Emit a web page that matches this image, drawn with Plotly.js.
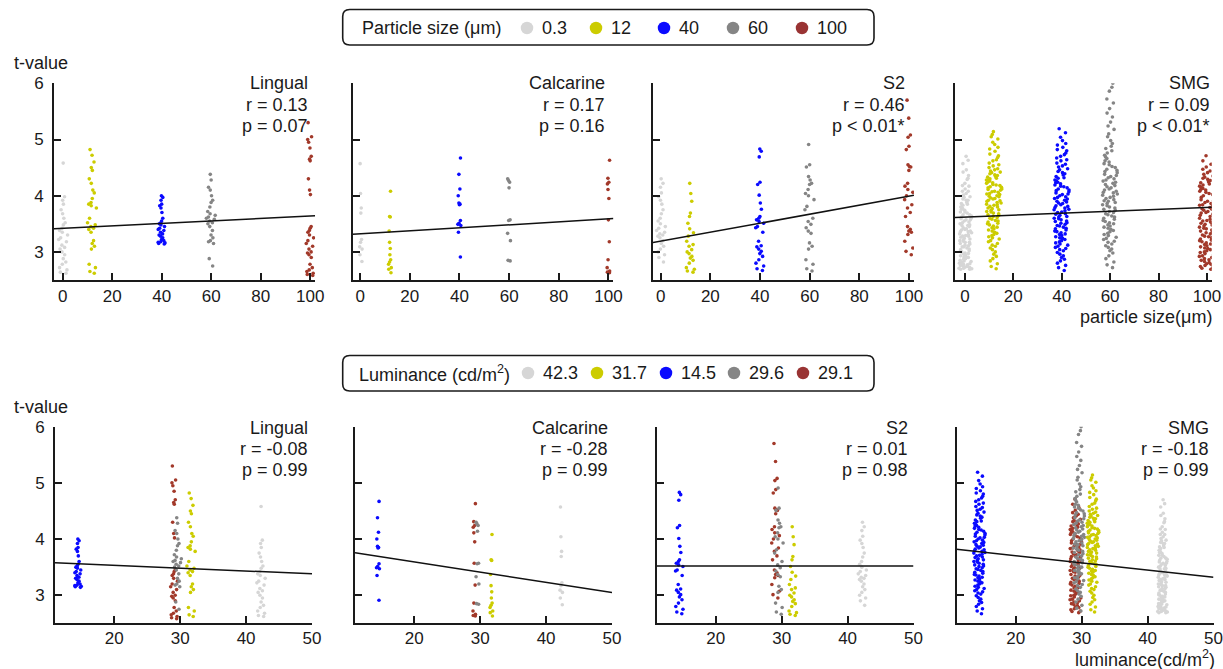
<!DOCTYPE html>
<html>
<head>
<meta charset="utf-8">
<script src="https://cdn.plot.ly/plotly-3.0.1.min.js"></script>
<style>html,body{margin:0;padding:0;background:#fff;}#chart{width:1223px;height:669px;}</style>
</head>
<body>
<div id="chart"></div>
<script>
// ---------------- DATA ----------------
const sizeCats = [0.3, 12, 40, 60, 100];
const lumCats = [42.3, 31.7, 14.5, 29.6, 29.1];
const sizeLabels = ['0.3', '12', '40', '60', '100'];
const lumLabels = ['42.3', '31.7', '14.5', '29.6', '29.1'];
const regions = ['Lingual', 'Calcarine', 'S2', 'SMG'];
const rTop = ['r = 0.13', 'r = 0.17', 'r = 0.46', 'r = 0.09'];
const pTop = ['p = 0.07', 'p = 0.16', 'p < 0.01*', 'p < 0.01*'];
const rBot = ['r = -0.08', 'r = -0.28', 'r = 0.01', 'r = -0.18'];
const pBot = ['p = 0.99', 'p = 0.99', 'p = 0.98', 'p = 0.99'];
const fitTopIntercept = [3.42, 3.32, 3.19, 3.62];
const fitTopSlope = [0.0022, 0.0027, 0.0080, 0.0017];
const fitBotIntercept = [3.636, 3.954, 3.52, 3.96];
const fitBotSlope = [-0.0051, -0.0181, 0.0, -0.0128];
const topXTicks = [0, 20, 40, 60, 80, 100];
const botXTicks = [20, 30, 40, 50];
const yTicks = [3, 4, 5, 6];

// t-values per region and category (same subjects in both rows)
const lingual_03 = [4.58, 3.98, 3.92, 3.85, 3.75, 3.68, 3.60, 3.52, 3.48, 3.42, 3.38, 3.35, 3.30, 3.25, 3.22, 3.18, 3.12, 3.08, 3.05, 3.00, 2.95, 2.88, 2.82, 2.78, 2.72, 2.68, 2.64, 2.62];
const lingual_12 = [4.82, 4.72, 4.60, 4.50, 4.45, 4.30, 4.22, 4.10, 4.05, 3.95, 3.88, 3.85, 3.82, 3.78, 3.60, 3.52, 3.48, 3.45, 3.42, 3.40, 3.35, 3.20, 3.15, 3.10, 3.05, 2.78, 2.72, 2.65, 2.62];
const lingual_40 = [4.00, 3.97, 3.92, 3.85, 3.82, 3.78, 3.70, 3.60, 3.55, 3.52, 3.50, 3.48, 3.45, 3.42, 3.40, 3.38, 3.35, 3.32, 3.30, 3.28, 3.25, 3.22, 3.20, 3.18, 3.17, 3.16, 3.15, 3.14];
const lingual_60 = [4.38, 4.28, 4.15, 4.10, 4.00, 3.92, 3.88, 3.80, 3.72, 3.68, 3.65, 3.62, 3.60, 3.58, 3.55, 3.52, 3.50, 3.45, 3.38, 3.30, 3.25, 3.20, 3.18, 3.15, 2.88, 2.75];
const lingual_100 = [5.30, 5.05, 5.00, 4.95, 4.85, 4.70, 4.65, 4.62, 4.30, 4.10, 4.02, 3.45, 3.42, 3.38, 3.35, 3.30, 3.25, 3.20, 3.15, 3.10, 3.05, 3.00, 2.98, 2.95, 2.90, 2.78, 2.72, 2.68, 2.65, 2.62, 2.60, 2.58];

const calcarine_03 = [4.57, 4.04, 3.78, 3.69, 3.22, 3.17, 3.09, 3.05, 2.95, 2.83];
const calcarine_12 = [4.08, 3.63, 3.62, 3.37, 3.17, 3.06, 2.95, 2.86, 2.82, 2.78, 2.72, 2.69, 2.63];
const calcarine_40 = [4.67, 4.38, 4.12, 4.00, 3.87, 3.85, 3.84, 3.56, 3.51, 3.49, 3.47, 3.35, 2.91];
const calcarine_60 = [4.30, 4.27, 4.24, 4.14, 3.57, 3.56, 3.33, 3.20, 2.85, 2.84];
const calcarine_100 = [4.63, 4.31, 4.24, 4.21, 4.11, 3.95, 3.57, 3.18, 2.86, 2.72, 2.66, 2.64, 2.63];

const s2_03 = [4.30, 4.22, 4.15, 4.05, 3.98, 3.92, 3.85, 3.75, 3.68, 3.60, 3.55, 3.50, 3.45, 3.42, 3.38, 3.35, 3.32, 3.30, 3.28, 3.25, 3.20, 3.15, 3.10, 3.05, 3.00, 2.95, 2.90, 2.82];
const s2_12 = [4.22, 4.04, 3.90, 3.69, 3.63, 3.51, 3.41, 3.34, 3.28, 3.19, 3.13, 3.10, 3.04, 3.00, 2.97, 2.92, 2.89, 2.85, 2.80, 2.72, 2.69, 2.66, 2.64];
const s2_40 = [4.83, 4.79, 4.69, 4.24, 4.20, 4.01, 3.87, 3.76, 3.63, 3.60, 3.57, 3.54, 3.51, 3.45, 3.43, 3.35, 3.19, 3.11, 3.09, 3.05, 3.01, 2.97, 2.92, 2.86, 2.80, 2.75, 2.70, 2.67];
const s2_60 = [4.91, 4.55, 4.51, 4.34, 4.28, 4.22, 4.20, 4.11, 4.04, 4.00, 3.93, 3.81, 3.75, 3.60, 3.54, 3.49, 3.43, 3.37, 3.33, 3.16, 3.10, 3.05, 2.86, 2.78, 2.70, 2.66];
const s2_100 = [5.70, 5.38, 5.08, 5.04, 4.88, 4.82, 4.55, 4.52, 4.51, 4.45, 4.22, 4.17, 4.11, 4.06, 4.00, 3.93, 3.84, 3.78, 3.70, 3.63, 3.45, 3.40, 3.37, 3.35, 3.31, 3.19, 3.07, 3.01, 2.95];

const smg_03 = [4.70, 4.63, 4.57, 4.46, 4.42, 4.36, 4.31, 4.29, 4.22, 4.18, 4.17, 4.12, 4.08, 4.08, 4.04, 4.01, 3.98, 3.97, 3.94, 3.92, 3.92, 3.88, 3.86, 3.85, 3.83, 3.80, 3.80, 3.77, 3.76, 3.74, 3.71, 3.71, 3.69, 3.66, 3.66, 3.64, 3.62, 3.60, 3.59, 3.57, 3.57, 3.55, 3.53, 3.52, 3.50, 3.48, 3.47, 3.47, 3.45, 3.43, 3.41, 3.40, 3.39, 3.37, 3.36, 3.36, 3.34, 3.32, 3.31, 3.29, 3.28, 3.28, 3.26, 3.24, 3.23, 3.21, 3.20, 3.19, 3.17, 3.17, 3.15, 3.14, 3.12, 3.11, 3.09, 3.09, 3.07, 3.05, 3.04, 3.02, 3.01, 3.00, 2.98, 2.97, 2.96, 2.94, 2.93, 2.91, 2.90, 2.90, 2.88, 2.87, 2.85, 2.84, 2.83, 2.81, 2.80, 2.79, 2.78, 2.77, 2.76, 2.75, 2.74, 2.73, 2.72, 2.71, 2.71, 2.70, 2.69, 2.69];
const smg_12 = [5.14, 5.09, 5.05, 5.01, 4.95, 4.91, 4.86, 4.83, 4.79, 4.74, 4.71, 4.68, 4.64, 4.62, 4.58, 4.55, 4.53, 4.50, 4.48, 4.46, 4.44, 4.42, 4.41, 4.39, 4.37, 4.36, 4.34, 4.33, 4.31, 4.30, 4.28, 4.27, 4.26, 4.24, 4.23, 4.22, 4.20, 4.19, 4.18, 4.16, 4.15, 4.14, 4.12, 4.11, 4.10, 4.08, 4.07, 4.06, 4.04, 4.03, 4.02, 4.00, 3.99, 3.98, 3.96, 3.95, 3.94, 3.92, 3.91, 3.90, 3.88, 3.87, 3.85, 3.84, 3.83, 3.81, 3.80, 3.78, 3.77, 3.75, 3.74, 3.72, 3.71, 3.69, 3.68, 3.66, 3.65, 3.63, 3.61, 3.60, 3.58, 3.56, 3.55, 3.53, 3.51, 3.50, 3.48, 3.46, 3.44, 3.43, 3.41, 3.39, 3.37, 3.35, 3.33, 3.31, 3.29, 3.27, 3.25, 3.23, 3.20, 3.18, 3.15, 3.12, 3.10, 3.07, 3.04, 3.00, 2.96, 2.92, 2.88, 2.84, 2.79, 2.74, 2.70];
const smg_40 = [5.19, 5.12, 5.04, 4.98, 4.93, 4.90, 4.86, 4.82, 4.80, 4.76, 4.73, 4.70, 4.67, 4.64, 4.62, 4.58, 4.56, 4.53, 4.51, 4.48, 4.46, 4.43, 4.41, 4.39, 4.37, 4.34, 4.32, 4.31, 4.28, 4.26, 4.24, 4.23, 4.21, 4.19, 4.17, 4.16, 4.14, 4.12, 4.10, 4.09, 4.07, 4.05, 4.03, 4.02, 4.00, 3.98, 3.97, 3.95, 3.94, 3.92, 3.90, 3.89, 3.87, 3.86, 3.84, 3.82, 3.81, 3.79, 3.78, 3.76, 3.75, 3.73, 3.71, 3.70, 3.68, 3.67, 3.65, 3.63, 3.62, 3.60, 3.59, 3.57, 3.55, 3.54, 3.52, 3.51, 3.49, 3.47, 3.46, 3.44, 3.42, 3.41, 3.39, 3.37, 3.36, 3.34, 3.32, 3.31, 3.29, 3.27, 3.25, 3.24, 3.22, 3.20, 3.18, 3.16, 3.14, 3.12, 3.10, 3.08, 3.06, 3.04, 3.02, 2.99, 2.96, 2.93, 2.90, 2.87, 2.84, 2.80, 2.76, 2.72, 2.67];
const smg_60 = [6.06, 6.00, 5.93, 5.86, 5.72, 5.65, 5.55, 5.47, 5.40, 5.31, 5.24, 5.18, 5.10, 5.05, 4.98, 4.93, 4.88, 4.84, 4.80, 4.76, 4.72, 4.69, 4.66, 4.62, 4.60, 4.57, 4.55, 4.52, 4.50, 4.47, 4.45, 4.43, 4.41, 4.38, 4.36, 4.34, 4.32, 4.30, 4.28, 4.26, 4.24, 4.22, 4.20, 4.18, 4.16, 4.14, 4.12, 4.10, 4.08, 4.06, 4.05, 4.03, 4.01, 3.99, 3.97, 3.95, 3.93, 3.91, 3.90, 3.88, 3.86, 3.84, 3.82, 3.80, 3.78, 3.76, 3.74, 3.72, 3.70, 3.68, 3.66, 3.64, 3.62, 3.60, 3.58, 3.56, 3.54, 3.52, 3.50, 3.48, 3.46, 3.44, 3.42, 3.40, 3.38, 3.36, 3.33, 3.31, 3.29, 3.26, 3.24, 3.22, 3.19, 3.17, 3.14, 3.11, 3.08, 3.05, 3.02, 2.98, 2.93, 2.88, 2.82, 2.77, 2.72];
const smg_100 = [4.71, 4.62, 4.56, 4.51, 4.47, 4.44, 4.41, 4.38, 4.35, 4.33, 4.31, 4.29, 4.27, 4.25, 4.23, 4.21, 4.19, 4.17, 4.15, 4.13, 4.11, 4.10, 4.08, 4.06, 4.04, 4.02, 4.00, 3.99, 3.97, 3.95, 3.93, 3.91, 3.90, 3.88, 3.86, 3.84, 3.83, 3.81, 3.79, 3.77, 3.76, 3.74, 3.72, 3.70, 3.69, 3.67, 3.65, 3.63, 3.62, 3.60, 3.58, 3.56, 3.55, 3.53, 3.51, 3.49, 3.48, 3.46, 3.44, 3.42, 3.41, 3.39, 3.37, 3.35, 3.34, 3.32, 3.30, 3.28, 3.27, 3.25, 3.23, 3.21, 3.20, 3.18, 3.16, 3.14, 3.13, 3.11, 3.09, 3.07, 3.06, 3.04, 3.02, 3.00, 2.99, 2.97, 2.95, 2.93, 2.92, 2.90, 2.88, 2.86, 2.85, 2.83, 2.81, 2.79, 2.78, 2.76, 2.74, 2.72, 2.71, 2.69];

// ---------------- STYLE ----------------
const W = 1223, H = 669;
const FONT = 'Liberation Sans, Arial, Helvetica, sans-serif';
const INK = '#1a1a1a';
const colors = ['#d6d6d6', '#cccc00', '#0a0aff', '#858585', '#a2392a'];
const legendColors = ['#d6d6d6', '#cccc00', '#0a0aff', '#858585', '#993333'];
const px = v => v / W;
const py = v => 1 - v / H;

const regionData = [
  [lingual_03, lingual_12, lingual_40, lingual_60, lingual_100],
  [calcarine_03, calcarine_12, calcarine_40, calcarine_60, calcarine_100],
  [s2_03, s2_12, s2_40, s2_60, s2_100],
  [smg_03, smg_12, smg_40, smg_60, smg_100]
];

// panel geometry (pixels)
const topRanges = [[-3.5, 102], [-3.0, 102], [-3.1, 102], [-4.1, 102]];
const topStarts = [54, 352.7, 653, 955];
const topPxPerUnit = [2.475, 2.483, 2.483, 2.42];
const botRange = [11, 50];
const botStarts = [55, 355, 656.5, 956.5];
const botWidth = 257;
const yRange = [2.5, 6];
const topStripW = [4.0, 1.6, 4.0, 6.5];
const botStripW = [1.4, 0.6, 1.4, 1.8];

const traces = [];
const layout = {
  width: W, height: H,
  margin: {l: 0, r: 0, t: 0, b: 0},
  paper_bgcolor: '#fff', plot_bgcolor: '#fff',
  font: {family: FONT, color: INK, size: 17},
  boxmode: 'overlay',
  showlegend: false,
  hovermode: false,
  annotations: [], shapes: []
};

function axisCommon() {
  return {
    showline: true, linewidth: 2, linecolor: INK,
    ticks: 'inside', ticklen: 7, tickwidth: 2, tickcolor: INK,
    showgrid: false, zeroline: false, fixedrange: true,
    ticklabeloverflow: 'allow',
    tickfont: {family: FONT, size: 17, color: INK}
  };
}

for (let row = 0; row < 2; row++) {
  for (let r = 0; r < 4; r++) {
    const k = row * 4 + r + 1;
    const xn = k === 1 ? 'x' : 'x' + k;
    const yn = k === 1 ? 'y' : 'y' + k;
    const xKey = k === 1 ? 'xaxis' : 'xaxis' + k;
    const yKey = k === 1 ? 'yaxis' : 'yaxis' + k;
    const xr = row === 0 ? topRanges[r] : botRange;
    const start = row === 0 ? topStarts[r] : botStarts[r];
    const width = row === 0 ? (xr[1] - xr[0]) * topPxPerUnit[r] : botWidth;
    const yDom = row === 0 ? [py(280), py(83.3)] : [py(623.3), py(426.7)];
    layout[xKey] = Object.assign(axisCommon(), {
      domain: [px(start), px(start + width)], range: xr,
      tickvals: row === 0 ? topXTicks : botXTicks, anchor: yn,
      ticklabelstandoff: row === 0 ? 0 : -2
    });
    layout[yKey] = Object.assign(axisCommon(), {
      domain: yDom, range: yRange, tickvals: yTicks, anchor: xn,
      showticklabels: r === 0, ticklabelstandoff: 5
    });

    const cats = row === 0 ? sizeCats : lumCats;
    const order = row === 0 ? [0, 1, 2, 3, 4] : [2, 4, 3, 1, 0];
    order.forEach(c => {
      traces.push({
        type: 'box', y: regionData[r][c], x0: cats[c],
        width: row === 0 ? topStripW[r] : botStripW[r],
        boxpoints: 'all', jitter: 1, pointpos: 0,
        fillcolor: 'rgba(0,0,0,0)', line: {width: 0, color: 'rgba(0,0,0,0)'},
        marker: {color: colors[c], size: 3.6, line: {width: 0}},
        whiskerwidth: 0, showlegend: false, hoverinfo: 'skip',
        xaxis: xn, yaxis: yn
      });
    });

    // regression line
    const b0 = row === 0 ? fitTopIntercept[r] : fitBotIntercept[r];
    const b1 = row === 0 ? fitTopSlope[r] : fitBotSlope[r];
    traces.push({
      type: 'scatter', mode: 'lines', x: xr, y: xr.map(v => b0 + b1 * v),
      line: {color: '#111', width: 1.5}, showlegend: false, hoverinfo: 'skip',
      xaxis: xn, yaxis: yn
    });

    // panel texts
    const rightX = row === 0 ? [310, 607, 907, 1212][r] : [310, 610, 910, 1211][r];
    const ys = row === 0 ? [83, 105, 126] : [428, 449, 470];
    const texts = [regions[r], row === 0 ? rTop[r] : rBot[r], row === 0 ? pTop[r] : pBot[r]];
    texts.forEach((t, i) => {
      layout.annotations.push({
        xref: 'paper', yref: 'paper', x: px(rightX), y: py(ys[i]),
        xanchor: 'right', yanchor: 'middle', text: t, showarrow: false,
        font: {family: FONT, size: 18, color: INK}
      });
    });
  }
}

// axis labels
layout.annotations.push(
  {xref: 'paper', yref: 'paper', x: px(12), y: py(63), xanchor: 'left', yanchor: 'middle',
   text: 't-value', showarrow: false, font: {family: FONT, size: 18, color: INK}},
  {xref: 'paper', yref: 'paper', x: px(12), y: py(407), xanchor: 'left', yanchor: 'middle',
   text: 't-value', showarrow: false, font: {family: FONT, size: 18, color: INK}},
  {xref: 'paper', yref: 'paper', x: px(1214), y: py(317), xanchor: 'right', yanchor: 'middle',
   text: 'particle size(μm)', showarrow: false, font: {family: FONT, size: 18, color: INK}},
  {xref: 'paper', yref: 'paper', x: px(1216), y: py(658), xanchor: 'right', yanchor: 'middle',
   borderpad: 0, text: 'luminance(cd/m<sup>2</sup>)', showarrow: false, font: {family: FONT, size: 18, color: INK}}
);

// ---------------- LEGENDS (boxed keys) ----------------
function roundRect(x0, y0, x1, y1, rad) {
  const rx = rad / W, ry = rad / H;
  const L = px(x0), R = px(x1), T = py(y0), B = py(y1);
  return `M ${L + rx},${T} L ${R - rx},${T} Q ${R},${T} ${R},${T - ry} L ${R},${B + ry} Q ${R},${B} ${R - rx},${B} ` +
         `L ${L + rx},${B} Q ${L},${B} ${L},${B + ry} L ${L},${T - ry} Q ${L},${T} ${L + rx},${T} Z`;
}
function addKey(title, titleX, labels, dotX, yc, boxTop, boxBottom) {
  layout.shapes.push({type: 'path', xref: 'paper', yref: 'paper',
    path: roundRect(342.7, boxTop, 874, boxBottom, 7), line: {color: INK, width: 1.6}});
  layout.annotations.push({xref: 'paper', yref: 'paper', x: px(titleX), y: py(yc),
    xanchor: 'left', yanchor: 'middle', text: title, showarrow: false,
    font: {family: FONT, size: 18, color: INK}});
  const d = 12.5;
  labels.forEach((lab, i) => {
    const cx = dotX[i];
    layout.shapes.push({type: 'circle', xref: 'paper', yref: 'paper',
      x0: px(cx - d / 2), x1: px(cx + d / 2), y0: py(yc + d / 2), y1: py(yc - d / 2),
      fillcolor: legendColors[i], line: {width: 0}});
    layout.annotations.push({xref: 'paper', yref: 'paper', x: px(cx + 13), y: py(yc),
      xanchor: 'left', yanchor: 'middle', text: lab, showarrow: false,
      font: {family: FONT, size: 18, color: INK}});
  });
}
addKey('Particle size (μm)', 360, sizeLabels, [527, 596, 664, 733, 802], 28, 9.5, 45);
addKey('Luminance (cd/m<sup>2</sup>)', 357, lumLabels, [528, 597, 666, 734, 803], 373, 355.5, 391);

Plotly.newPlot('chart', traces, layout, {staticPlot: true, displayModeBar: false});
</script>
</body>
</html>
